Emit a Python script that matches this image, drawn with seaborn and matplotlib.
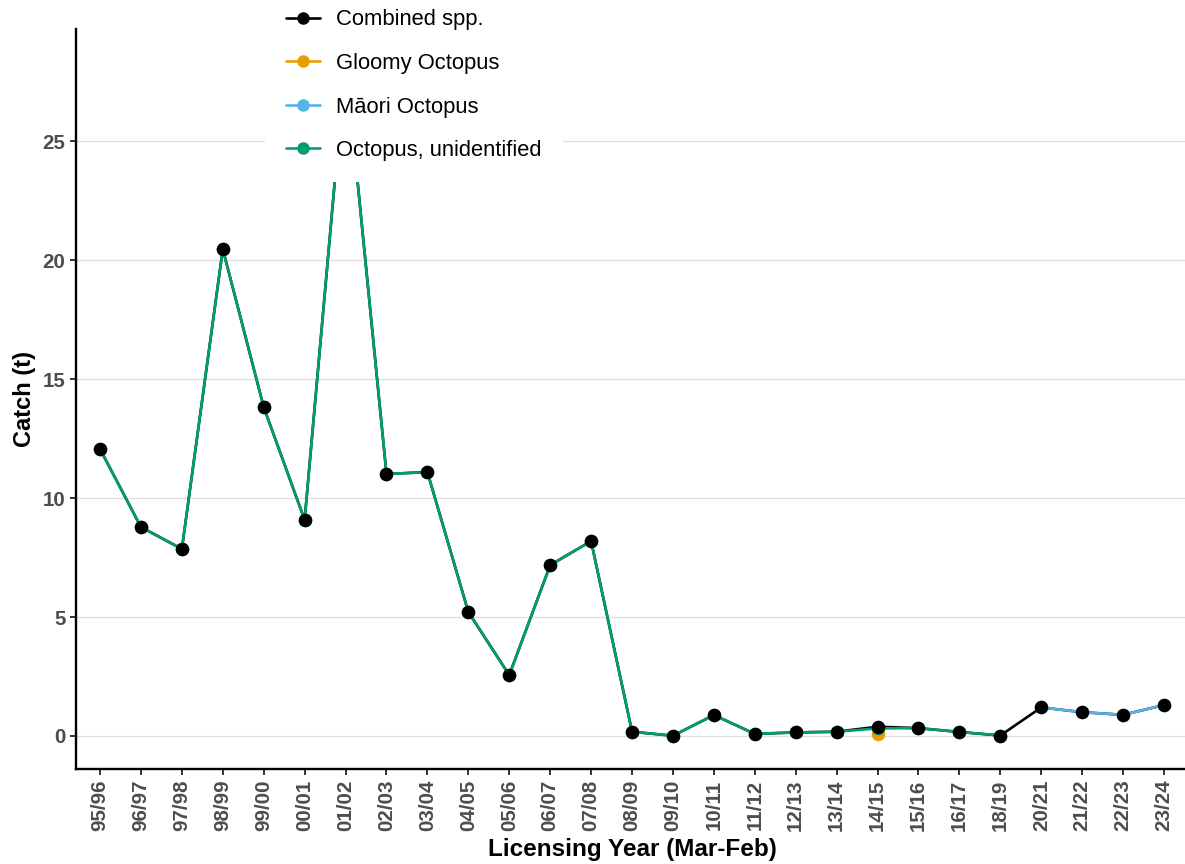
import numpy as np
import pandas as pd
import matplotlib
matplotlib.use("Agg")
import matplotlib.pyplot as plt
from matplotlib.lines import Line2D
import seaborn as sns

# Licensing years (Mar-Feb)
years = ["95/96", "96/97", "97/98", "98/99", "99/00", "00/01", "01/02", "02/03",
         "03/04", "04/05", "05/06", "06/07", "07/08", "08/09", "09/10", "10/11",
         "11/12", "12/13", "13/14", "14/15", "15/16", "16/17", "18/19", "20/21",
         "21/22", "22/23", "23/24"]

nan = np.nan
# Catch (t) by species group
combined = [12.06, 8.78, 7.86, 20.46, 13.82, 9.08, 28.4, 11.01, 11.09, 5.21,
            2.56, 7.18, 8.19, 0.18, 0.01, 0.88, 0.09, 0.15, 0.18, 0.39, 0.33,
            0.17, 0.02, 1.20, 1.00, 0.89, 1.30]
gloomy = [nan] * 19 + [0.07] + [nan] * 7
maori = [nan] * 23 + [1.20, 1.00, 0.89, 1.30]
unidentified = [12.06, 8.78, 7.86, 20.46, 13.82, 9.08, 28.4, 11.01, 11.09, 5.21,
                2.56, 7.18, 8.19, 0.18, 0.01, 0.88, 0.09, 0.15, 0.18, 0.32, 0.33,
                0.17, 0.02, nan, nan, nan, nan]

series_names = ["Combined spp.", "Gloomy Octopus", "Māori Octopus", "Octopus, unidentified"]
series_values = [combined, gloomy, maori, unidentified]
series_colors = ["#000000", "#E69F00", "#56B4E9", "#009E73"]

sns.set_theme(style="white")
plt.rcParams["font.family"] = ["Liberation Sans", "DejaVu Sans"]

frames = []
for name, vals in zip(series_names, series_values):
    frames.append(pd.DataFrame({"pos": np.arange(len(years)), "year": years,
                                "catch": vals, "group": name}))
df = pd.concat(frames).dropna(subset=["catch"])

fig = plt.figure(figsize=(11.85, 8.64), dpi=100)
ax = fig.add_axes([76 / 1185, 95 / 864, (1189 - 76) / 1185, 740 / 864])

palette = dict(zip(series_names, series_colors))

# Combined line sits underneath the species lines
comb = df[df["group"] == "Combined spp."]
sns.lineplot(data=comb, x="pos", y="catch", color="#000000", lw=1.9,
             ax=ax, zorder=2, legend=False)
for name in series_names[1:]:
    sub = df[df["group"] == name]
    sns.lineplot(data=sub, x="pos", y="catch", color=palette[name], lw=1.9,
                 ax=ax, zorder=3, legend=False)
for name in series_names[1:]:
    sub = df[df["group"] == name]
    sns.scatterplot(data=sub, x="pos", y="catch", color=palette[name], s=95,
                    linewidth=0, ax=ax, zorder=4, legend=False)
sns.scatterplot(data=comb, x="pos", y="catch", color="#000000", s=95,
                linewidth=0, ax=ax, zorder=5, legend=False)

ax.set_xlim(-0.587, 26.61)
ax.set_ylim(-1.387, 29.71)
ax.set_xticks(np.arange(len(years)))
ax.set_xticklabels(years, rotation=90)
ax.set_yticks([0, 5, 10, 15, 20, 25])

ax.yaxis.grid(True, color="#DEDEDE", lw=0.9)
ax.xaxis.grid(False)
ax.set_axisbelow(True)
for side in ["top", "right"]:
    ax.spines[side].set_visible(False)
for side in ["left", "bottom"]:
    ax.spines[side].set_color("black")
    ax.spines[side].set_linewidth(1.7)

ax.tick_params(axis="both", which="major", length=4.5, width=1.4,
               color="#333333", labelcolor="#4D4D4D", labelsize=14.8, pad=3,
               bottom=True, left=True)
for lab in ax.get_xticklabels() + ax.get_yticklabels():
    lab.set_fontweight("bold")

ax.set_xlabel("Licensing Year (Mar-Feb)", fontsize=17.5, fontweight="bold",
              color="black", labelpad=5)
ax.set_ylabel("Catch (t)", fontsize=17, fontweight="bold", color="black",
              labelpad=5)

handles = [Line2D([0], [0], color=c, lw=1.9, marker="o", markersize=9,
                  markeredgewidth=0) for c in series_colors]
leg = ax.legend(handles, series_names, loc="lower left",
                bbox_to_anchor=(265 / 1185, (864 - 182) / 864),
                bbox_transform=fig.transFigure, frameon=True, fancybox=False,
                facecolor="white", edgecolor="none", framealpha=1,
                fontsize=15.8, handlelength=1.55, handletextpad=0.75,
                labelspacing=1.03, borderpad=0.95, borderaxespad=0,
                labelcolor="black")
leg.set_zorder(10)

fig.savefig("out.png", dpi=100)
